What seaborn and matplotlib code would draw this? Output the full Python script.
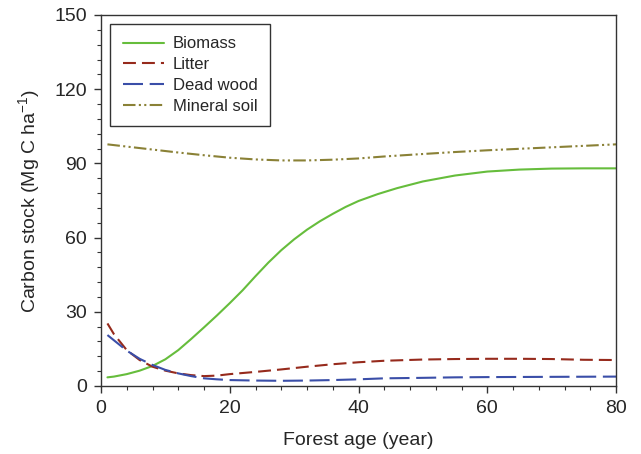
import matplotlib
matplotlib.use("Agg")
import matplotlib.pyplot as plt
import seaborn as sns
import pandas as pd

# ---- data ----
biomass_age = [1, 2, 4, 6, 8, 10, 12, 14, 16, 18, 20, 22, 24, 26, 28, 30, 32, 34, 36, 38, 40, 43, 46, 50, 55, 60, 65, 70, 75, 80]
biomass = [3.5, 3.8, 4.8, 6.2, 8.1, 10.8, 14.5, 19.0, 23.7, 28.5, 33.5, 38.7, 44.4, 49.9, 54.9, 59.3, 63.2, 66.6, 69.6, 72.4, 74.8, 77.6, 80.0, 82.7, 85.1, 86.7, 87.5, 87.9, 88.0, 88.0]

litter_age = [1, 2, 4, 6, 8, 10, 12, 14, 16, 18, 20, 24, 28, 32, 36, 40, 44, 50, 55, 60, 65, 70, 75, 80]
litter = [25.3, 21.0, 14.5, 10.5, 7.8, 6.2, 5.1, 4.4, 4.0, 4.2, 4.8, 5.7, 6.7, 7.8, 8.8, 9.6, 10.2, 10.7, 10.9, 11.0, 11.0, 10.9, 10.6, 10.5]

deadwood_age = [1, 2, 4, 6, 8, 10, 12, 14, 16, 18, 20, 24, 28, 32, 36, 40, 44, 50, 55, 60, 70, 80]
deadwood = [20.6, 18.5, 14.3, 11.0, 8.5, 6.5, 5.1, 4.0, 3.1, 2.7, 2.4, 2.2, 2.1, 2.2, 2.4, 2.7, 3.1, 3.3, 3.5, 3.6, 3.7, 3.8]

soil_age = [1, 4, 8, 12, 16, 20, 24, 28, 32, 36, 40, 44, 50, 55, 60, 65, 70, 75, 80]
soil = [97.7, 96.8, 95.6, 94.4, 93.3, 92.3, 91.6, 91.2, 91.2, 91.5, 92.0, 92.8, 93.8, 94.6, 95.3, 95.9, 96.5, 97.1, 97.7]

series_names = ["Biomass", "Litter", "Dead wood", "Mineral soil"]
x_ticks = [0, 20, 40, 60, 80]
y_ticks = [0, 30, 60, 90, 120, 150]

# ---- style ----
sns.set_theme(style="ticks")
plt.rcParams["font.family"] = ["Liberation Sans", "DejaVu Sans"]
plt.rcParams["mathtext.default"] = "regular"

fig = plt.figure(figsize=(6.41, 4.54), dpi=100)
ax = fig.add_axes([101 / 641, 1 - 386 / 454, 515 / 641, 371 / 454])

colors = ["#66bd3c", "#962a1c", "#3a4ea8", "#8a8136"]
dash_styles = [None, (6.2, 2.9), (9.6, 3.2), (6, 1.6, 1, 1.6, 1, 1.6)]
datasets = [(biomass_age, biomass), (litter_age, litter), (deadwood_age, deadwood), (soil_age, soil)]

for name, (xs, ys), c, d in zip(series_names, datasets, colors, dash_styles):
    df = pd.DataFrame({"age": xs, "val": ys})
    sns.lineplot(data=df, x="age", y="val", ax=ax, color=c, linewidth=1.5, label=name)
    line = ax.lines[-1]
    if d is not None:
        line.set_dashes(d)

ax.set_xlim(0, 80)
ax.set_ylim(0, 150)
ax.set_xticks(x_ticks)
ax.set_yticks(y_ticks)
ax.set_xticks(range(0, 81, 4), minor=True)
ax.set_yticks(range(0, 151, 6), minor=True)
ax.tick_params(axis="both", which="major", direction="out", length=5, width=1, labelsize=14, color="#333333", pad=5)
ax.tick_params(axis="both", which="minor", direction="out", length=3, width=0.8, color="#333333")
ax.tick_params(top=False, right=False, which="both")
for s in ax.spines.values():
    s.set_visible(True)
    s.set_color("#333333")
    s.set_linewidth(1.0)

ax.set_xlabel("Forest age (year)", fontsize=14, labelpad=11)
ax.set_ylabel("Carbon stock (Mg C ha$^{-1}$)", fontsize=14, labelpad=9)

leg = ax.legend(loc="upper left", bbox_to_anchor=(0.0175, 0.976), borderaxespad=0,
                fontsize=12, frameon=True, fancybox=False, edgecolor="#333333",
                handlelength=2.5, handletextpad=0.5, labelspacing=0.35, borderpad=0.75)
leg.get_frame().set_linewidth(1.0)
leg.get_frame().set_alpha(1)

fig.savefig("out.png", dpi=100)
